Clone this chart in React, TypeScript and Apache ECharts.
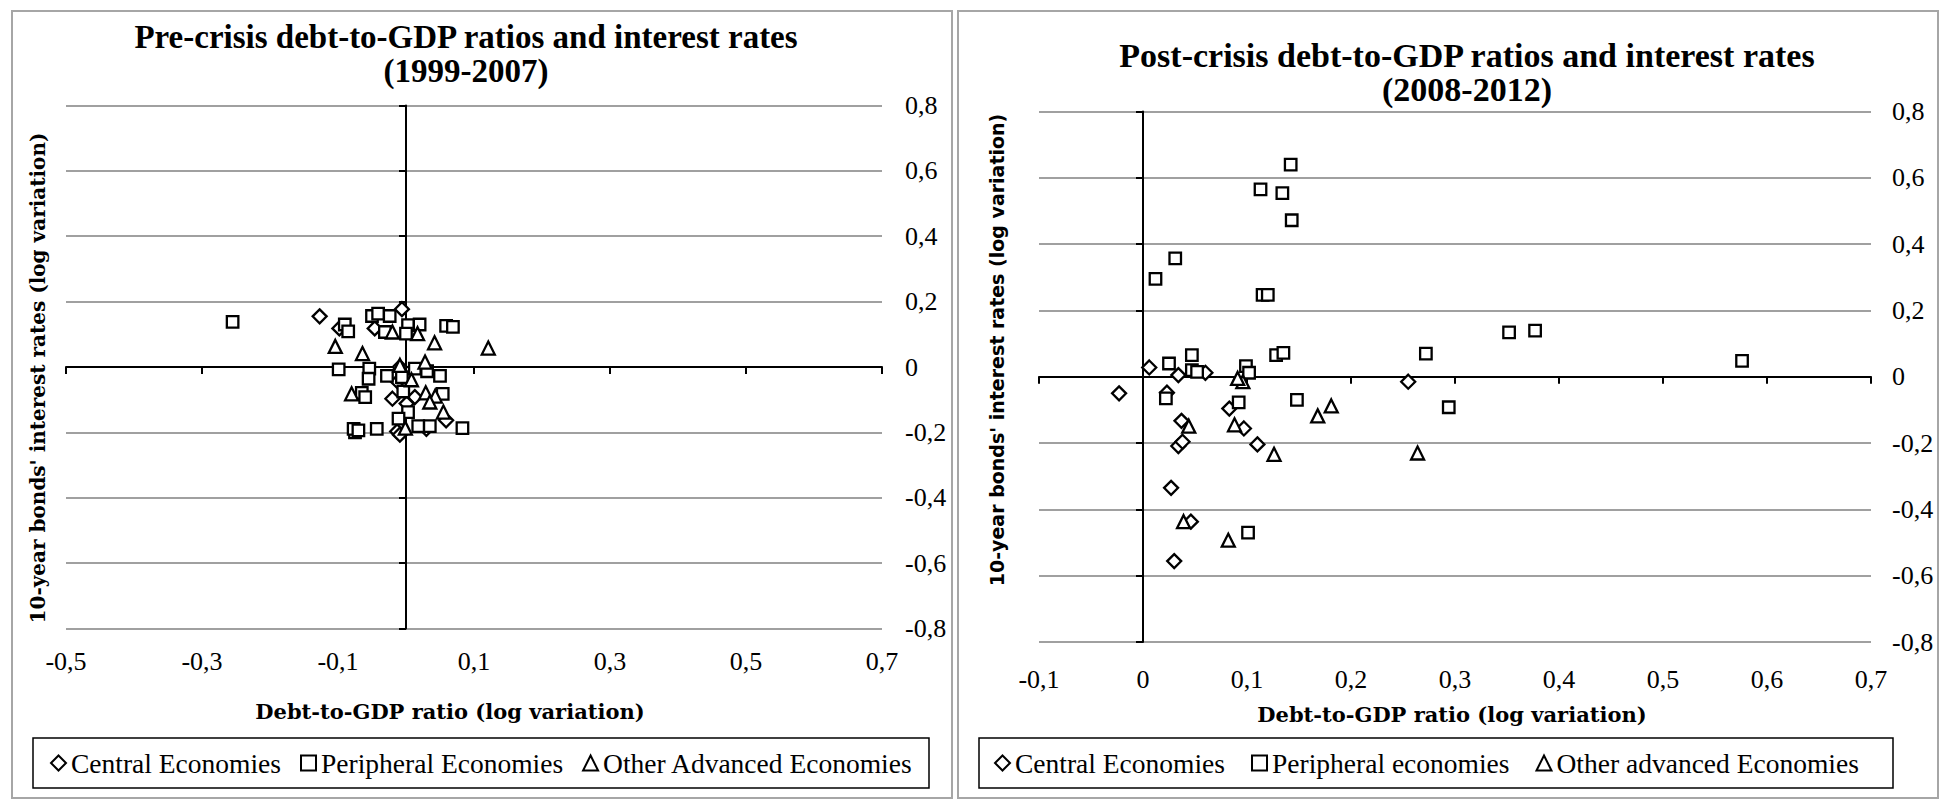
import React, { useEffect, useRef } from "react";
import * as echarts from "echarts";

// ---------- data ----------
const leftXTicks = [-0.5, -0.3, -0.1, 0.1, 0.3, 0.5, 0.7];
const rightXTicks = [-0.1, 0, 0.1, 0.2, 0.3, 0.4, 0.5, 0.6, 0.7];

const leftNames = ["Central Economies", "Peripheral Economies", "Other Advanced Economies"];
const rightNames = ["Central Economies", "Peripheral economies", "Other advanced Economies"];

const preCentral: [number, number][] = [
  [-0.127, 0.155], [-0.006, 0.177], [-0.098, 0.118], [-0.046, 0.118], [-0.009, 0.0],
  [-0.012, -0.045], [-0.02, -0.097], [0.013, -0.092], [0.001, -0.112], [0.059, -0.163],
  [-0.013, -0.197], [0.03, -0.189], [-0.009, -0.207],
];
const prePeripheral: [number, number][] = [
  [-0.255, 0.138], [-0.05, 0.156], [-0.041, 0.163], [-0.024, 0.156], [-0.09, 0.13],
  [-0.085, 0.109], [-0.031, 0.107], [0.003, 0.128], [0.02, 0.13], [0.0, 0.102],
  [0.059, 0.126], [0.069, 0.123], [-0.099, -0.007], [-0.054, -0.005], [-0.055, -0.036],
  [-0.028, -0.027], [0.013, -0.005], [0.031, -0.013], [0.05, -0.027], [-0.006, -0.031],
  [-0.065, -0.079], [-0.06, -0.092], [-0.004, -0.075], [0.054, -0.082], [0.003, -0.138],
  [-0.075, -0.2], [-0.077, -0.189], [-0.07, -0.194], [-0.043, -0.189], [-0.011, -0.158],
  [0.018, -0.181], [0.035, -0.181], [0.083, -0.187],
];
const preOther: [number, number][] = [
  [-0.02, 0.107], [0.017, 0.102], [-0.104, 0.063], [-0.064, 0.041], [0.042, 0.074],
  [0.121, 0.058], [-0.009, 0.005], [0.028, 0.015], [0.008, -0.039], [-0.08, -0.082],
  [0.029, -0.079], [0.043, -0.089], [0.035, -0.107], [0.055, -0.138], [-0.001, -0.187],
];

const postCentral: [number, number][] = [
  [0.006, 0.028], [0.034, 0.005], [0.06, 0.012], [-0.023, -0.05], [0.023, -0.048],
  [0.037, -0.133], [0.034, -0.209], [0.038, -0.196], [0.027, -0.335], [0.046, -0.437],
  [0.03, -0.556], [0.083, -0.096], [0.097, -0.156], [0.11, -0.204], [0.255, -0.015],
];
const postPeripheral: [number, number][] = [
  [0.031, 0.357], [0.012, 0.295], [0.025, 0.04], [0.047, 0.065], [0.047, 0.02],
  [0.052, 0.015], [0.022, -0.065], [0.101, -0.47], [0.115, 0.247], [0.12, 0.247],
  [0.352, 0.134], [0.377, 0.139], [0.128, 0.065], [0.135, 0.072], [0.272, 0.07],
  [0.576, 0.048], [0.099, 0.032], [0.102, 0.012], [0.142, 0.64], [0.113, 0.565],
  [0.134, 0.554], [0.143, 0.472], [0.092, -0.077], [0.148, -0.07], [0.294, -0.092],
];
const postOther: [number, number][] = [
  [0.044, -0.149], [0.039, -0.437], [0.082, -0.493], [0.096, -0.015], [0.091, -0.005],
  [0.088, -0.145], [0.126, -0.234], [0.168, -0.118], [0.181, -0.088], [0.264, -0.23],
];

// ---------- helpers ----------
const fmt = (v: number) => {
  const r = Math.round(v * 10) / 10;
  return Math.abs(r) < 1e-9 ? "0" : r.toFixed(1).replace(".", ",");
};

const SERIF = "Liberation Serif";
const labelFont = { fontFamily: SERIF, fontSize: 26, color: "#000" };
const markStyle = { color: "#ffffff", borderColor: "#000000", borderWidth: 2.3, opacity: 1 };
const axisLineStyle = { color: "#000", width: 2 };
const gridLineStyle = { color: "#a0a0a0", width: 2 };

function labelX(grid: number, min: number, max: number, ticks: number[], margin: number) {
  return {
    gridIndex: grid, type: "value", min, max, position: "bottom",
    axisLine: { show: false, onZero: false },
    axisTick: { show: false },
    splitLine: { show: false },
    axisLabel: { show: true, customValues: ticks, formatter: fmt, margin, ...labelFont },
  };
}
function lineX(grid: number, min: number, max: number, ticks: number[], yIdx: number) {
  return {
    gridIndex: grid, type: "value", min, max, position: "top",
    axisLine: { show: true, onZero: true, onZeroAxisIndex: yIdx, lineStyle: axisLineStyle },
    axisTick: { show: true, inside: true, length: 7, customValues: ticks, lineStyle: axisLineStyle },
    splitLine: { show: false },
    axisLabel: { show: false },
  };
}
function labelY(grid: number, margin: number) {
  return {
    gridIndex: grid, type: "value", min: -0.8, max: 0.8, interval: 0.2, position: "right",
    axisLine: { show: false, onZero: false },
    axisTick: { show: false },
    splitLine: { show: true, lineStyle: gridLineStyle },
    axisLabel: { show: true, formatter: fmt, margin, ...labelFont },
  };
}
function lineY(grid: number, xIdx: number) {
  return {
    gridIndex: grid, type: "value", min: -0.8, max: 0.8, interval: 0.2, position: "left",
    axisLine: { show: true, onZero: true, onZeroAxisIndex: xIdx, lineStyle: axisLineStyle },
    axisTick: { show: true, length: 7, lineStyle: axisLineStyle },
    splitLine: { show: false },
    axisLabel: { show: false },
  };
}
function scatter(name: string, data: [number, number][], symbol: string, size: number, axis: number) {
  return {
    type: "scatter", name, data, symbol, symbolSize: size,
    xAxisIndex: axis, yAxisIndex: axis,
    itemStyle: markStyle, emphasis: { disabled: true }, silent: true,
  };
}
function txt(text: string, x: number, y: number, size: number, family: string, rotate = 0) {
  return {
    type: "text", x, y, rotation: rotate,
    style: {
      text, fontSize: size, fontFamily: family, fontWeight: "bold", fill: "#000",
      textAlign: "center", textVerticalAlign: "middle",
    },
  };
}

export default function App() {
  const ref = useRef<HTMLDivElement>(null);
  useEffect(() => {
    if (!ref.current) return;
    const chart = echarts.init(ref.current, undefined, { renderer: "svg" });
    const legendBase = {
      orient: "horizontal", itemWidth: 15, itemHeight: 15, padding: 0,
      selectedMode: false, top: 749,
      textStyle: { fontFamily: SERIF, fontSize: 27.5, color: "#000" },
    };
    chart.setOption({
      animation: false,
      backgroundColor: "#ffffff",
      grid: [
        { left: 66, top: 105.5, width: 816, height: 523, containLabel: false },
        { left: 1039, top: 111.5, width: 832, height: 530.5, containLabel: false },
      ],
      xAxis: [
        labelX(0, -0.5, 0.7, leftXTicks, 20),
        lineX(0, -0.5, 0.7, leftXTicks, 0),
        labelX(1, -0.1, 0.7, rightXTicks, 24),
        lineX(1, -0.1, 0.7, rightXTicks, 2),
      ],
      yAxis: [labelY(0, 23), lineY(0, 0), labelY(1, 21), lineY(1, 2)],
      legend: [
        { ...legendBase, itemGap: 19, left: 50, data: leftNames },
        { ...legendBase, itemGap: 26, left: 994, data: rightNames },
      ],
      series: [
        scatter(leftNames[0], preCentral, "diamond", 14, 0),
        scatter(leftNames[1], prePeripheral, "rect", 11.5, 0),
        scatter(leftNames[2], preOther, "triangle", 13, 0),
        scatter(rightNames[0], postCentral, "diamond", 14, 2),
        scatter(rightNames[1], postPeripheral, "rect", 11.5, 2),
        scatter(rightNames[2], postOther, "triangle", 13, 2),
      ],
      graphic: [
        { type: "rect", shape: { x: 12, y: 11, width: 940, height: 787 }, style: { fill: "none", stroke: "#a6a6a6", lineWidth: 2 }, silent: true },
        { type: "rect", shape: { x: 958, y: 11, width: 980, height: 787 }, style: { fill: "none", stroke: "#a6a6a6", lineWidth: 2 }, silent: true },
        { type: "rect", shape: { x: 33, y: 738, width: 896, height: 50 }, style: { fill: "none", stroke: "#000", lineWidth: 1.5 }, silent: true },
        { type: "rect", shape: { x: 979, y: 738, width: 914, height: 50 }, style: { fill: "none", stroke: "#000", lineWidth: 1.5 }, silent: true },
        txt("Pre-crisis debt-to-GDP ratios and interest rates", 466, 37, 33, SERIF),
        txt("(1999-2007)", 466, 71, 33, SERIF),
        txt("Post-crisis debt-to-GDP ratios and interest rates", 1467, 55, 34, SERIF),
        txt("(2008-2012)", 1467, 89, 34, SERIF),
        txt("Debt-to-GDP ratio (log variation)", 450, 711, 21, "DejaVu Serif"),
        txt("Debt-to-GDP ratio (log variation)", 1452, 714, 21, "DejaVu Serif"),
        txt("10-year bonds' interest rates (log variation)", 38, 378, 20, "DejaVu Serif", Math.PI / 2),
        txt("10-year bonds' interest rates (log variation)", 997, 350, 19, "DejaVu Sans", Math.PI / 2),
      ],
    });
    return () => chart.dispose();
  }, []);
  return (
    <div
      ref={ref}
      style={{ position: "absolute", left: 0, top: 0, width: 1941, height: 801, background: "#fff" }}
    />
  );
}
